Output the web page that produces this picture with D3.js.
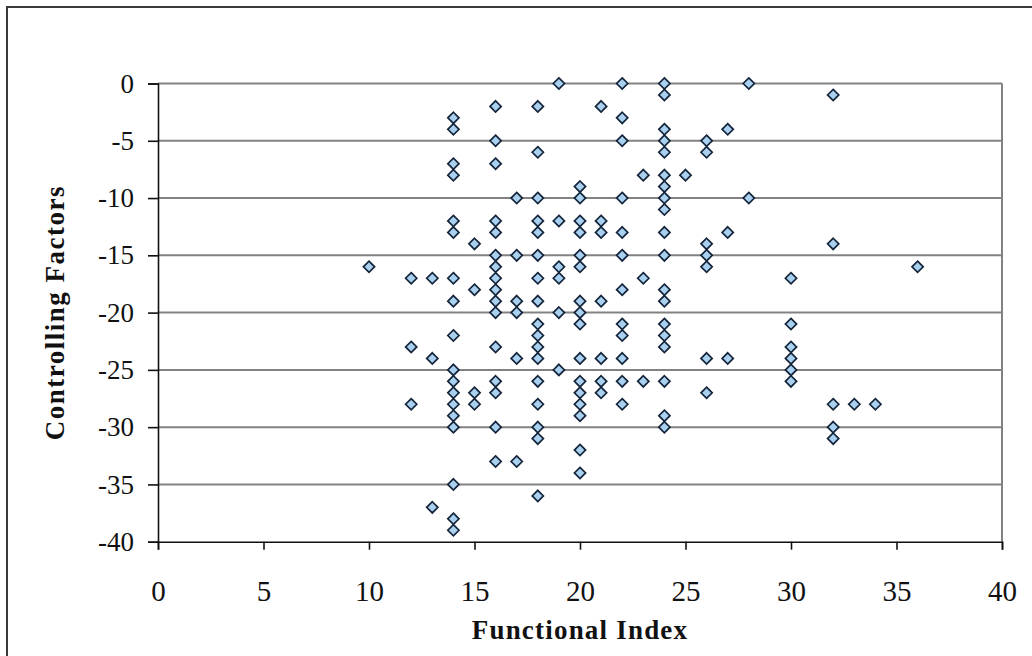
<!DOCTYPE html>
<html>
<head>
<meta charset="utf-8">
<script src="https://cdn.jsdelivr.net/npm/d3@7"></script>
<style>
  html, body { margin: 0; padding: 0; background: #fff; }
  svg { display: block; }
</style>
</head>
<body>
<div id="chart"></div>
<script>
// columns of the scatter: functional index value and the controlling-factor values seen at it
const columnX = [10, 12, 13, 14, 15, 16, 17, 18, 19, 20, 21, 22, 23, 24, 25, 26, 27, 28, 30, 32, 33, 34, 36];
const columnY = [
  [-16],
  [-17, -23, -28],
  [-17, -24, -37],
  [-3, -4, -7, -8, -12, -13, -17, -19, -22, -25, -26, -27, -28, -29, -30, -35, -38, -39],
  [-14, -18, -27, -28],
  [-2, -5, -7, -12, -13, -15, -16, -17, -18, -19, -20, -23, -26, -27, -30, -33],
  [-10, -15, -19, -20, -24, -33],
  [-2, -6, -10, -12, -13, -15, -17, -19, -21, -22, -23, -24, -26, -28, -30, -31, -36],
  [0, -12, -16, -17, -20, -25],
  [-9, -10, -12, -13, -15, -16, -19, -20, -21, -24, -26, -27, -28, -29, -32, -34],
  [-2, -12, -13, -19, -24, -26, -27],
  [0, -3, -5, -10, -13, -15, -18, -21, -22, -24, -26, -28],
  [-8, -17, -26],
  [0, -1, -4, -5, -6, -8, -9, -10, -11, -13, -15, -18, -19, -21, -22, -23, -26, -29, -30],
  [-8],
  [-5, -6, -14, -15, -16, -24, -27],
  [-4, -13, -24],
  [0, -10],
  [-17, -21, -23, -24, -25, -26],
  [-1, -14, -28, -30, -31],
  [-28],
  [-28],
  [-16]
];
const xTicks = [0, 5, 10, 15, 20, 25, 30, 35, 40];
const yTicks = [0, -5, -10, -15, -20, -25, -30, -35, -40];
const xTitle = "Functional Index";
const yTitle = "Controlling Factors";

const points = [];
columnX.forEach((x, i) => columnY[i].forEach(y => points.push({ x: x, y: y })));

const W = 1032, H = 656;
const margin = { top: 83.5, right: 30, bottom: 114.3, left: 158 };
const width = W - margin.left - margin.right;
const height = H - margin.top - margin.bottom;

const svg = d3.select("#chart").append("svg")
  .attr("width", W)
  .attr("height", H);

// outer chart frame
svg.append("rect")
  .attr("x", 7).attr("y", 7)
  .attr("width", W + 20).attr("height", H + 20)
  .attr("fill", "none")
  .attr("stroke", "#3a3a3a")
  .attr("stroke-width", 2);

const g = svg.append("g")
  .attr("transform", `translate(${margin.left},${margin.top})`);

const x = d3.scaleLinear().domain([0, 40]).range([0, width]);
const y = d3.scaleLinear().domain([-40, 0]).range([height, 0]);

// horizontal gridlines
g.append("g")
  .selectAll("line")
  .data(yTicks.filter(t => t !== -40))
  .join("line")
    .attr("x1", 0).attr("x2", width)
    .attr("y1", d => y(d)).attr("y2", d => y(d))
    .attr("stroke", "#828282")
    .attr("stroke-width", 2);

// right edge of the plot area
g.append("line")
  .attr("x1", width).attr("x2", width)
  .attr("y1", 0).attr("y2", height)
  .attr("stroke", "#828282")
  .attr("stroke-width", 2);

const yAxis = g.append("g")
  .call(d3.axisLeft(y).tickValues(yTicks).tickSize(10).tickPadding(14).tickFormat(d3.format("d")));
const xAxis = g.append("g")
  .attr("transform", `translate(0,${height})`)
  .call(d3.axisBottom(x).tickValues(xTicks).tickSize(8).tickPadding(31).tickFormat(d3.format("d")));

[yAxis, xAxis].forEach(ax => {
  ax.select(".domain").attr("stroke", "#111").attr("stroke-width", 1.6);
  ax.selectAll(".tick line").attr("stroke", "#111").attr("stroke-width", 1.6);
  ax.selectAll(".tick text")
    .attr("fill", "#111")
    .style("font-family", "'Liberation Serif', 'Times New Roman', serif")
    .style("font-size", "27px");
});
xAxis.selectAll(".tick text").style("font-size", "29px");
yAxis.selectAll(".tick text").text(d => d === 0 ? "0" : "-" + Math.abs(d));

// markers
const diamond = "M0,-5.6L5.6,0L0,5.6L-5.6,0Z";
g.append("g")
  .selectAll("path")
  .data(points)
  .join("path")
    .attr("d", diamond)
    .attr("transform", d => `translate(${x(d.x)},${y(d.y)})`)
    .attr("fill", "#a9d1ef")
    .attr("stroke", "#14243a")
    .attr("stroke-width", 1.7);

// axis titles
svg.append("text")
  .attr("x", margin.left + width / 2)
  .attr("y", 639)
  .attr("text-anchor", "middle")
  .style("font-family", "'Liberation Serif', 'Times New Roman', serif")
  .style("font-weight", "bold")
  .style("font-size", "27px")
  .style("letter-spacing", "1.2px")
  .attr("fill", "#111")
  .text(xTitle);

svg.append("text")
  .attr("transform", `translate(64,${margin.top + height / 2}) rotate(-90)`)
  .attr("text-anchor", "middle")
  .style("font-family", "'Liberation Serif', 'Times New Roman', serif")
  .style("font-weight", "bold")
  .style("font-size", "27px")
  .style("letter-spacing", "1.5px")
  .attr("fill", "#111")
  .text(yTitle);
</script>
</body>
</html>
